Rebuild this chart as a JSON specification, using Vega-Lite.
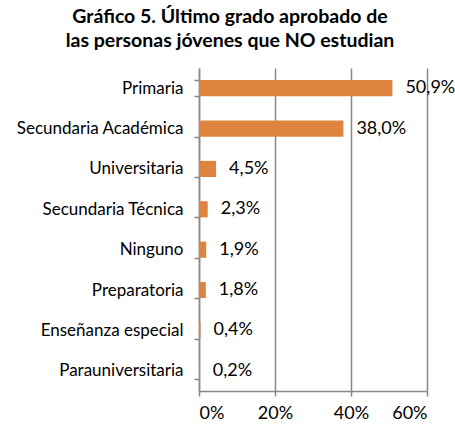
{
  "$schema": "https://vega.github.io/schema/vega-lite/v6.json",
  "width": 228,
  "height": 323,
  "autosize": {"type": "none"},
  "padding": {"left": 199, "top": 68, "right": 28, "bottom": 36},
  "background": "white",
  "title": {
    "text": ["Gráfico 5. Último grado aprobado de", "las personas jóvenes que NO estudian"],
    "font": "Lato",
    "fontSize": 19.5,
    "fontWeight": "bold",
    "color": "#000000",
    "anchor": "middle",
    "dx": -83,
    "offset": 8,
    "lineHeight": 24
  },
  "config": {
    "locale": {"number": {"decimal": ",", "thousands": ".", "grouping": [3], "currency": ["", " €"]}},
    "view": {"stroke": null},
    "font": "Lato"
  },
  "data": {
    "values": [
      {"grado": "Primaria", "pct": 0.509},
      {"grado": "Secundaria Académica", "pct": 0.380},
      {"grado": "Universitaria", "pct": 0.045},
      {"grado": "Secundaria Técnica", "pct": 0.023},
      {"grado": "Ninguno", "pct": 0.019},
      {"grado": "Preparatoria", "pct": 0.018},
      {"grado": "Enseñanza especial", "pct": 0.004},
      {"grado": "Parauniversitaria", "pct": 0.002}
    ]
  },
  "encoding": {
    "y": {
      "field": "grado",
      "type": "nominal",
      "sort": null,
      "scale": {"paddingInner": 0.6, "paddingOuter": 0.3},
      "axis": {
        "title": null,
        "tickBand": "extent",
        "labelFont": "Lato",
        "labelFontSize": 17,
        "labelColor": "#000000",
        "labelPadding": 11,
        "labelLimit": 250,
        "tickSize": 5,
        "tickColor": "#888888",
        "domainColor": "#888888",
        "domainWidth": 1.5,
        "tickWidth": 1.5
      }
    },
    "x": {
      "field": "pct",
      "type": "quantitative",
      "scale": {"domain": [0, 0.6], "nice": false},
      "axis": {
        "title": null,
        "values": [0, 0.2, 0.4, 0.6],
        "format": ".0%",
        "grid": true,
        "gridColor": "#888888",
        "gridWidth": 1.5,
        "labelFont": "Lato",
        "labelFontSize": 18,
        "labelColor": "#000000",
        "labelPadding": 8,
        "tickSize": 5,
        "tickColor": "#888888",
        "tickWidth": 1.5,
        "domainColor": "#888888",
        "domainWidth": 1.5
      }
    }
  },
  "layer": [
    {"mark": {"type": "bar", "color": "#DF8440"}},
    {
      "mark": {"type": "text", "align": "left", "dx": 13, "font": "Lato", "fontSize": 18, "color": "#000000"},
      "encoding": {"text": {"field": "pct", "type": "quantitative", "format": ".1%"}}
    }
  ]
}
